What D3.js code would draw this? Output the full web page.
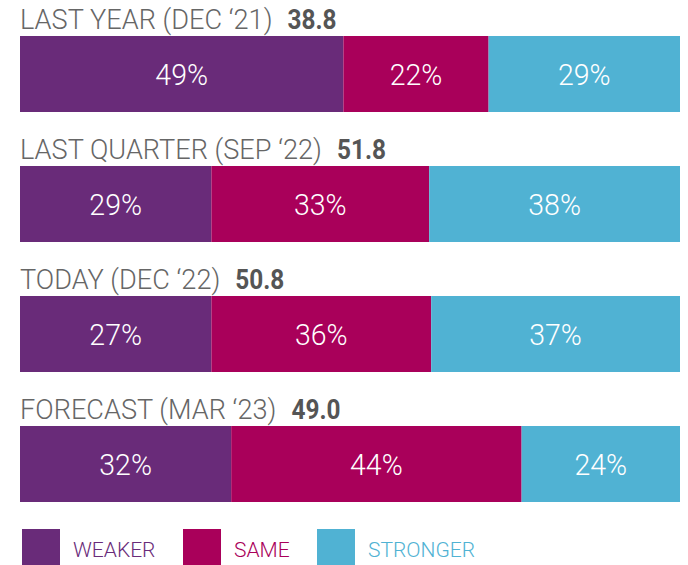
<!DOCTYPE html>
<html><head><meta charset="utf-8">
<script src="https://cdn.jsdelivr.net/npm/d3@7"></script>
<style>body{margin:0;background:#fff}svg{display:block}</style>
</head><body>
<svg id="chart" width="688" height="565"></svg>
<script>
const periods = ["LAST YEAR (DEC \u201821)", "LAST QUARTER (SEP \u201822)", "TODAY (DEC \u201822)", "FORECAST (MAR \u201823)"];
const indexValues = ["38.8", "51.8", "50.8", "49.0"];
const seriesNames = ["WEAKER", "SAME", "STRONGER"];
// printed labels
const weaker = [49, 29, 27, 32];
const same = [22, 33, 36, 44];
const stronger = [29, 38, 37, 24];
// bar lengths as drawn in the source picture
const weakerBar = [49, 29, 29, 32];
const sameBar = [22, 33, 33.3, 44];
const strongerBar = [29, 38, 37.7, 24];
const colors = ["#692B79", "#A9005A", "#50B2D3"];

const svg = d3.select("#chart");
const x = d3.scaleLinear().domain([0, 100]).range([20, 680]);
const yb = d3.scaleBand().domain(periods).range([-18, 502]).padding(0);

const rows = periods.map((p, i) => {
  const vals = [weakerBar[i], sameBar[i], strongerBar[i]];
  const labs = [weaker[i], same[i], stronger[i]];
  let c = 0;
  return vals.map((v, k) => { const s = {period: p, k, v: labs[k], x0: c, x1: c + v}; c += v; return s; });
});

const titleScale = 0.97, valueScale = 0.87;
periods.forEach((p, i) => {
  const top = yb(p) + 54;
  const barH = yb.bandwidth() - 54;
  const g = svg.append("g");
  const t = g.append("text")
    .attr("transform", `translate(20,${top - 7}) scale(${titleScale},1)`)
    .attr("font-family", "Roboto").attr("font-size", 28).attr("font-weight", 300)
    .attr("fill", "#666666").text(p);
  const tw = t.node().getComputedTextLength() * titleScale;
  g.append("text")
    .attr("transform", `translate(${20 + tw + 15},${top - 7}) scale(${valueScale},1)`)
    .attr("font-family", "Roboto").attr("font-size", 28).attr("font-weight", 700)
    .attr("fill", "#555555").text(indexValues[i]);

  g.selectAll("rect").data(rows[i]).join("rect")
    .attr("x", d => x(d.x0)).attr("width", d => x(d.x1) - x(d.x0))
    .attr("y", top).attr("height", barH)
    .attr("fill", d => colors[d.k]);
  g.selectAll("text.lbl").data(rows[i]).join("text").attr("class", "lbl")
    .attr("transform", d => `translate(${(x(d.x0) + x(d.x1)) / 2},${top + barH / 2 + 11}) scale(0.95,1)`)
    .attr("text-anchor", "middle")
    .attr("font-family", "Roboto").attr("font-weight", 300).attr("font-size", 30)
    .attr("fill", "#ffffff")
    .text(d => d.v + "%");
});

const legendX = [22, 183, 317];
const lg = svg.append("g");
seriesNames.forEach((n, k) => {
  lg.append("rect").attr("x", legendX[k]).attr("y", 529).attr("width", 38).attr("height", 38).attr("fill", colors[k]);
  lg.append("text").attr("transform", `translate(${legendX[k] + 51},557)`)
    .attr("font-family", "Roboto").attr("font-weight", 300).attr("font-size", 21)
    .attr("fill", colors[k]).text(n);
});
</script>
</body></html>
